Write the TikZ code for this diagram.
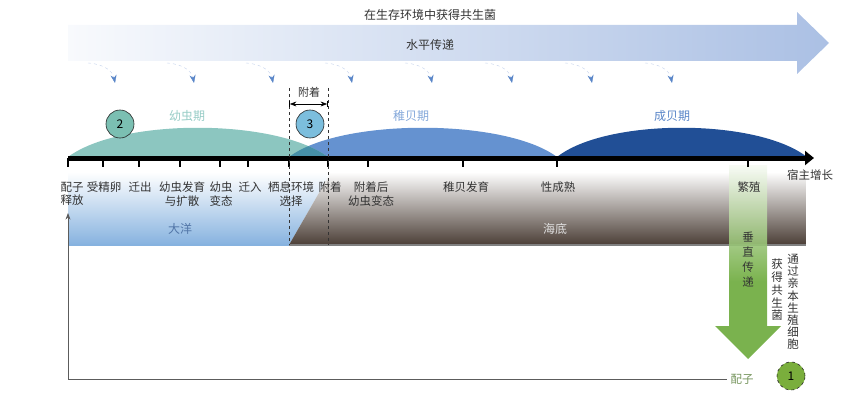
\documentclass[tikz,border=0pt]{standalone}
\usepackage{fontspec}
\setmainfont{Noto Sans CJK SC}
\usetikzlibrary{arrows.meta,positioning}

\definecolor{larva}{HTML}{8CC6C0}
\definecolor{juven}{HTML}{6592D0}
\definecolor{adult}{HTML}{214F96}
\definecolor{overlap}{HTML}{4690A8}
\definecolor{oceanblue}{HTML}{86B2DF}
\definecolor{seabed}{HTML}{4B3E36}
\definecolor{vgreen}{HTML}{6CAA3B}
\definecolor{txt}{HTML}{333333}
\definecolor{hblue}{HTML}{ABC0E4}
\definecolor{tipblue}{HTML}{5A86C8}

\pgfdeclareverticalshading{greenfade}{100bp}{color(0bp)=(vgreen); color(25bp)=(vgreen); color(45bp)=(vgreen); color(75bp)=(vgreen!6); color(100bp)=(vgreen!6)}

\tikzset{
  stagecirc/.style={circle, draw=black!85, semithick, minimum size=28pt, inner sep=0pt, font=\fontsize{12}{12}\selectfont},
  eventlabel/.style={anchor=north, inner sep=0pt, align=center, text=txt, font=\fontsize{11.5}{13.5}\selectfont},
  vtext/.style={inner sep=0pt, align=center, text=txt, font=\fontsize{11.5}{#1}\selectfont},
}

\begin{document}
\begin{tikzpicture}[x=1pt, y=-1pt, >=Stealth, font=\fontsize{12}{14}\selectfont]
  \useasboundingbox (0,0) rectangle (860,404);

  % horizontal transmission
  \shade[left color=hblue!8, right color=hblue] (68,25) -- (797,25) -- (797,12) -- (829,43) -- (797,74) -- (797,61) -- (68,61) -- cycle;
  \node[text=txt] (env) at (430,15) {在生存环境中获得共生菌};
  \node[text=txt] (horiz) at (430,45) {水平传递};
  \foreach \x in {115,194,273,352,432,512,592,672} {
    \coordinate (hs\x) at (\x-27,63);
    \coordinate (ht\x) at (\x,83);
    \draw[hblue!70, dashed, thin, -{Stealth[length=8pt, width=6pt, color=tipblue]}] (hs\x) .. controls (\x-10,64) and (\x-2,72) .. (ht\x);
  }

  % stages
  \fill[juven] (289,157) .. controls (340,118) and (505,118) .. (557,157) -- cycle;
  \fill[adult] (557,157) .. controls (606,118) and (757,118) .. (807,157) -- cycle;
  \fill[larva] (68,157) .. controls (120,118) and (275,118) .. (328,157) -- cycle;
  \begin{scope}
    \clip (68,157) .. controls (120,118) and (275,118) .. (328,157) -- cycle;
    \fill[overlap] (289,157) .. controls (340,118) and (505,118) .. (557,157) -- cycle;
  \end{scope}
  \node[text=larva!90!white] (larvalstage) at (187,116) {幼虫期};
  \node[text=juven!80!white] (juvstage) at (411,116) {稚贝期};
  \node[text=tipblue] (adultstage) at (672,116) {成贝期};
  \node[stagecirc, fill={rgb,255:red,123;green,191;blue,178}] (c2) at (120,124) {2};
  \node[stagecirc, fill={rgb,255:red,124;green,190;blue,221}] (c3) at (310,124) {3};

  % ocean and sea floor
  \shade[top color=white, bottom color=oceanblue] (68,172) -- (331,172) -- (289,245) -- (68,245) -- cycle;
  \shade[top color=white, bottom color=seabed] (331,172) -- (806,172) -- (806,245) -- (289,245) -- cycle;
  \draw[oceanblue, line width=1.5pt] (68,245) -- (289,245);
  \draw[gray, line width=1.5pt] (289,245) -- (806,245);
  \node[text=juven!80!black] (ocean) at (180,229) {大洋};
  \node[text=white!88!black] (floor) at (555,229) {海底};

  % vertical transmission
  \shade[shading=greenfade, fill opacity=0.9] (729,165) -- (767,165) -- (767,326) -- (781,326) -- (748,359) -- (715,326) -- (729,326) -- cycle;
  \node[vtext=15] (vert) at (748,260) {垂\\直\\传\\递};
  \node[vtext=12.8] (getsym) at (777,290) {获\\得\\共\\生\\菌};
  \node[vtext=12.2] (viagerm) at (793,302) {通\\过\\亲\\本\\生\\殖\\细\\胞};

  % time axis
  \draw[line width=5pt, -{Triangle[length=9pt, width=14pt]}] (68,158) -- (814,158);
  \foreach \x in {68,103,139,180,220,248,289,328,368,463,557,748}
    \draw[line width=2.5pt] (\x,158) -- (\x,167);
  \node[text=txt, font=\fontsize{11.5}{13}\selectfont] (host) at (810,175) {宿主增长};
  \foreach \name/\x/\txt in {release/72/{配子\\释放}, zygote/104/受精卵, emigrate/140/迁出,
      develop/182/{幼虫发育\\与扩散}, metamorph/221/{幼虫\\变态}, immigrate/250/迁入,
      select/291/{栖息环境\\选择}, attach/330/附着, postattach/371/{附着后\\幼虫变态},
      juvdev/466/稚贝发育, mature/558/性成熟, breed/749/繁殖}
    \node[eventlabel] (\name) at (\x,182) {\txt};

  % attachment window
  \draw[dashed, txt, thick] (289,88) -- (289,245);
  \draw[dashed, txt, thick] (328,88) -- (328,245);
  \node[text=txt, font=\fontsize{11}{13}\selectfont] (attachlbl) at (309,92) {附着};
  \draw[|<->|, thick] (289,104) -- (328,104);

  % gametes back to release
  \node[text=vgreen!50!gray, font=\fontsize{11.5}{13}\selectfont] (gamete) at (742,379) {配子};
  \coordinate (looptop) at (68,213);
  \draw[txt!80, thick, ->] (gamete.west) -| (looptop);
  \node[stagecirc, fill={rgb,255:red,122;green,174;blue,60}, dashed] (c1) at (791,376) {1};
\end{tikzpicture}
\end{document}
